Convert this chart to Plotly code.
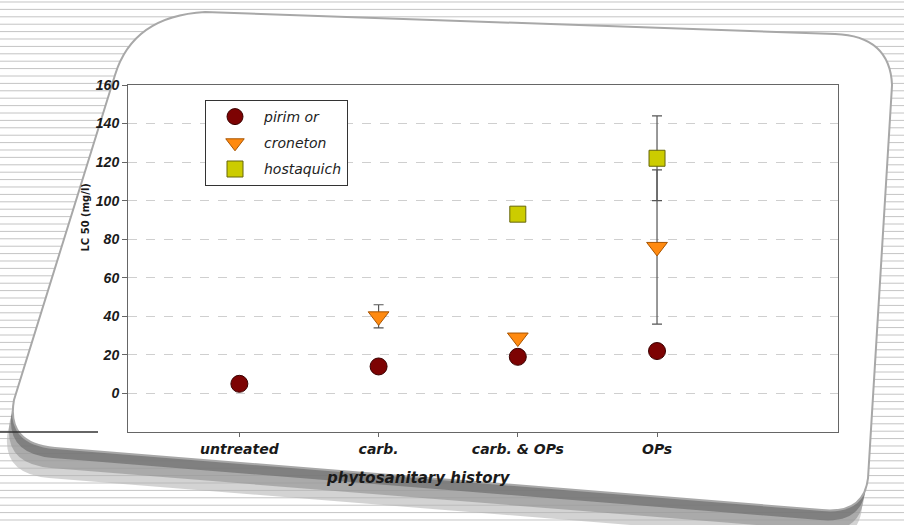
import plotly.graph_objects as go

# ---- data ----
categories = ["untreated", "carb.", "carb. & OPs", "OPs"]
pirimor = [5, 14, 19, 22]
croneton = [None, 40, 29, 76]
croneton_err = [0, 6, 0, 40]
hostaquich = [None, None, 93, 122]
hostaquich_err = [0, 0, 0, 22]
y_ticks = [0, 20, 40, 60, 80, 100, 120, 140, 160]

# ---- geometry helpers (decoration only) ----
W, H = 904, 525
L, R, T, B = 128, 838, 85, 432
PW, PH = R - L, B - T


def px(x):
    return (x - L) / PW


def py(y):
    return (B - y) / PH


def pt(x, y):
    return f"{px(x):.4f},{py(y):.4f}"


FONT = "Liberation Sans, Arial, sans-serif"
WIDE = "DejaVu Sans, Verdana, sans-serif"

fig = go.Figure()

fig.add_trace(go.Scatter(
    x=categories, y=pirimor, name="pirim or", mode="markers",
    legendgroup="a",
    marker=dict(symbol="circle", size=17, color="#7d0303",
                line=dict(color="#3a0000", width=1)),
))
fig.add_trace(go.Scatter(
    x=categories, y=croneton, name="croneton", mode="markers",
    legendgroup="b",
    marker=dict(symbol="triangle-down", size=18, color="#ff8a10",
                line=dict(color="#a85400", width=1)),
    error_y=dict(type="data", array=croneton_err, visible=True,
                 color="#555555", thickness=1.2, width=5),
))
fig.add_trace(go.Scatter(
    x=categories, y=hostaquich, name="hostaquich", mode="markers",
    legendgroup="c",
    marker=dict(symbol="square", size=16, color="#cccc00",
                line=dict(color="#66660a", width=1)),
    error_y=dict(type="data", array=hostaquich_err, visible=True,
                 color="#555555", thickness=1.2, width=5),
))

# ---- decorative background: stripes, card shadow, card ----
stripes = " ".join(
    f"M {px(0):.4f},{py(y):.4f} L {px(W):.4f},{py(y):.4f}"
    for y in [i * 7.4 + 2 for i in range(72)]
)
shapes = [
    dict(type="path", xref="paper", yref="paper", path=stripes,
         line=dict(color="#c4c4c4", width=1), layer="below"),
]


def card_path(dx=0, dy=0):
    p = lambda x, y: pt(x + dx, y + dy)
    return ("M " + p(205, 12) + " L " + p(835, 34)
            + " Q " + p(890, 36) + " " + p(892, 85)
            + " L " + p(868, 478)
            + " Q " + p(864, 514) + " " + p(822, 510)
            + " L " + p(55, 448)
            + " Q " + p(6, 444) + " " + p(14, 400)
            + " L " + p(115, 75)
            + " Q " + p(133, 16) + " " + p(205, 12) + " Z")


for dx, dy, col, op in [(-6, 30, "#b5b5b5", 0.6), (-4, 20, "#8f8f8f", 0.6),
                        (-2, 10, "#6e6e6e", 0.7)]:
    shapes.append(dict(type="path", xref="paper", yref="paper",
                       path=card_path(dx, dy), fillcolor=col,
                       line=dict(width=0), opacity=op, layer="below"))
shapes.append(dict(type="path", xref="paper", yref="paper",
                   path=card_path(), fillcolor="#ffffff",
                   line=dict(color="#a8a8a8", width=2), layer="below"))
shapes.append(dict(type="line", xref="paper", yref="paper",
                   x0=px(0), x1=px(98), y0=py(432), y1=py(432),
                   line=dict(color="#333333", width=1.5), layer="below"))

fig.update_layout(
    width=W, height=H,
    margin=dict(l=L, r=W - R, t=T, b=H - B, pad=0),
    paper_bgcolor="#ffffff",
    plot_bgcolor="rgba(0,0,0,0)",
    font=dict(family=FONT, color="#222222"),
    shapes=shapes,
    showlegend=True,
    legend=dict(
        x=px(205), y=py(100), xanchor="left", yanchor="top",
        bgcolor="#ffffff", bordercolor="#333333", borderwidth=1,
        font=dict(family=WIDE, size=14, style="italic", color="#222222"),
        tracegroupgap=5, itemwidth=48,
    ),
    xaxis=dict(
        type="category", range=[-0.8, 4.3],
        showline=True, linecolor="#666666", linewidth=1, mirror=True,
        showgrid=False, ticks="outside", ticklen=4, tickcolor="#666666",
        tickfont=dict(family=WIDE, size=14, style="italic", weight="bold",
                      color="#1a1a1a"),
        zeroline=False,
    ),
    yaxis=dict(
        range=[-20, 160], tickvals=y_ticks,
        showline=True, linecolor="#666666", linewidth=1, mirror=True,
        showgrid=True, gridcolor="#cfcfcf", griddash="dash", gridwidth=1,
        ticks="outside", ticklen=5, tickcolor="#666666",
        tickfont=dict(family=FONT, size=14, style="italic", weight="bold",
                      color="#1a1a1a"),
        zeroline=False,
    ),
    annotations=[
        dict(text="phytosanitary history", xref="paper", yref="paper",
             x=px(418), y=py(478), xanchor="center", yanchor="middle",
             showarrow=False,
             font=dict(family=WIDE, size=15, style="italic", weight="bold",
                       color="#1a1a1a")),
        dict(text="LC 50 (mg/l)", xref="paper", yref="paper",
             x=px(78), y=py(218), showarrow=False, textangle=-90,
             font=dict(family=WIDE, size=10, weight="bold",
                       color="#1a1a1a")),
    ],
)

fig.write_html("out.html", config={"displayModeBar": False},
               post_script="document.body.style.margin='0';")
